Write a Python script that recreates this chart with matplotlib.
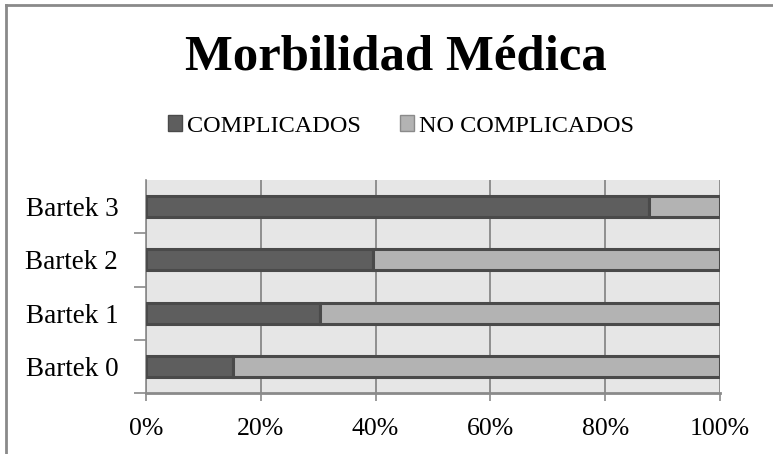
import matplotlib
matplotlib.use("Agg")
import matplotlib.pyplot as plt
from matplotlib.lines import Line2D
from matplotlib.patches import Patch
import numpy as np

categories = ["Bartek 0", "Bartek 1", "Bartek 2", "Bartek 3"]
complicados = [15.1, 30.3, 39.5, 87.7]
no_complicados = [84.9, 69.7, 60.5, 12.3]
xticks = [0, 20, 40, 60, 80, 100]
xticklabels = ["0%", "20%", "40%", "60%", "80%", "100%"]

serif = ["Liberation Serif", "DejaVu Serif"]
plt.rcParams['font.family'] = serif

fig = plt.figure(figsize=(7.73, 4.54), dpi=100)
ax = fig.add_axes([146/773, 1-393/454, (720-146)/773, (393-180)/454])
ax.set_facecolor("#e6e6e6")

y = np.arange(len(categories))
c1 = "#5e5e5e"
c2 = "#b3b3b3"
ec = "#4a4a4a"
ax.barh(y, complicados, height=0.39, color=c1, edgecolor=ec, linewidth=2.2, zorder=3)
ax.barh(y, no_complicados, left=complicados, height=0.39, color=c2, edgecolor=ec, linewidth=2.2, zorder=3)

ax.set_xlim(0, 100)
ax.set_ylim(-0.5, 3.5)
ax.set_xticks(xticks)
ax.set_xticklabels(xticklabels, fontsize=18.5)
ax.set_yticks(y)
ax.set_yticklabels(categories, fontsize=19.5)
ax.tick_params(axis='y', which='major', length=0, pad=20)
ax.set_yticks([-0.5, 0.5, 1.5, 2.5], minor=True)
ax.tick_params(axis='y', which='minor', length=9, color="#8a8a8a", width=1.2)
ax.tick_params(axis='x', length=6, color="#8a8a8a", width=1.2, pad=12)
ax.grid(axis='x', color="#808080", linewidth=1.2, zorder=1)
for s in ["top", "right"]:
    ax.spines[s].set_visible(False)
ax.spines["left"].set_color("#8a8a8a")
ax.spines["left"].set_linewidth(1.2)
ax.spines["bottom"].set_color("#8a8a8a")
ax.spines["bottom"].set_linewidth(2)

fig.text(396/773, 1-57/454, "Morbilidad Médica", ha="center", va="center",
         fontsize=36.5, fontweight="bold", family=serif)

handles = [Patch(facecolor=c1, edgecolor="#4a4a4a"), Patch(facecolor=c2, edgecolor="#8a8a8a")]
fig.legend(handles, ["COMPLICADOS", "NO COMPLICADOS"], loc="center",
           bbox_to_anchor=(401/773, 1-126/454), ncol=2, frameon=False,
           fontsize=17.5, handlelength=0.6, handleheight=0.6, handletextpad=0.2,
           columnspacing=1.6)

# figure border on left and top
fig.add_artist(Line2D([6/773, 6/773], [0, 1-5/454], color="#8a8a8a", linewidth=2, transform=fig.transFigure))
fig.add_artist(Line2D([6/773, 1], [1-5/454, 1-5/454], color="#8a8a8a", linewidth=2, transform=fig.transFigure))

fig.savefig("out.png", dpi=100)
